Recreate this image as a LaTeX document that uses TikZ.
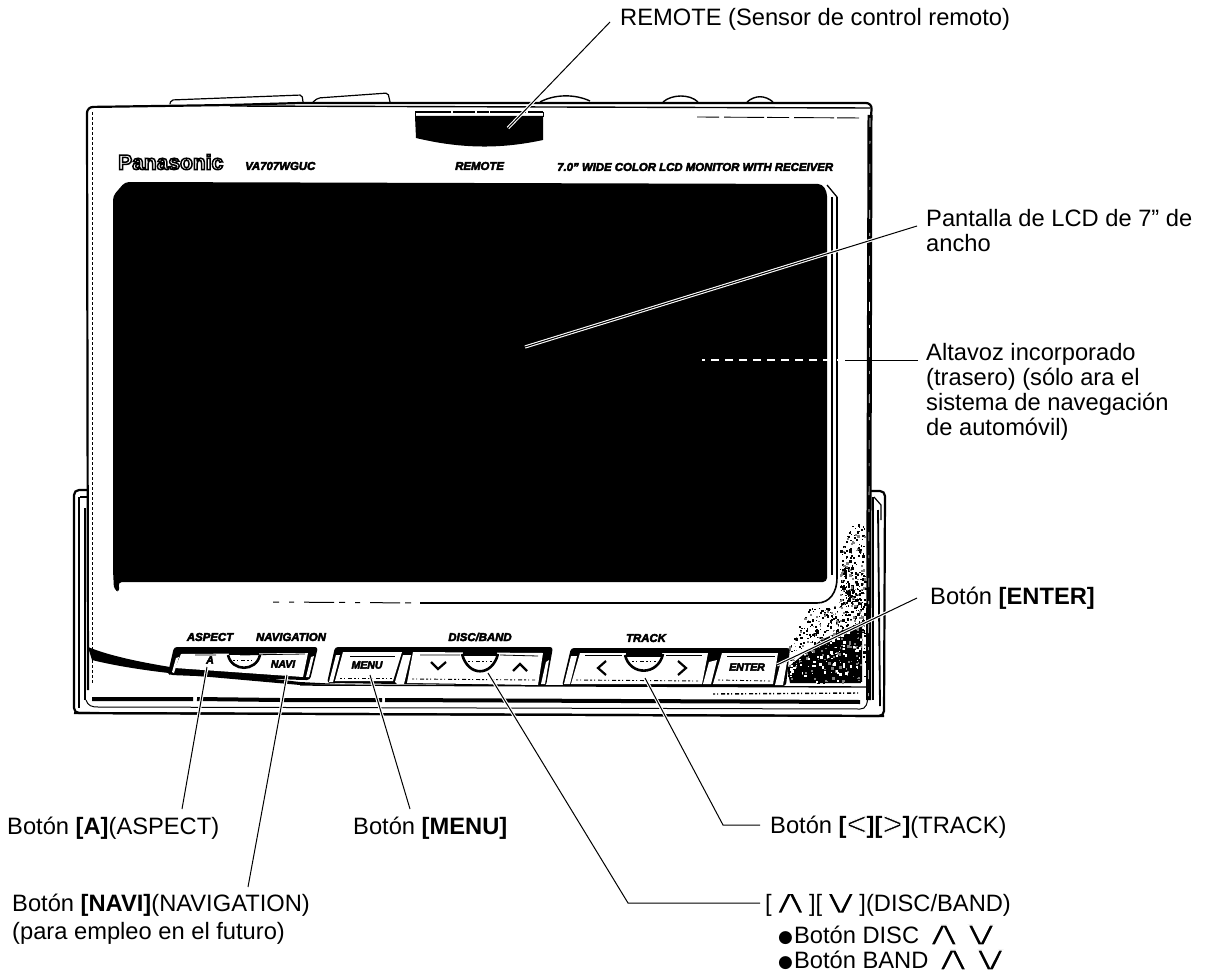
\documentclass[tikz,border=0pt]{standalone}
\usepackage{fontspec}
\usepackage{graphicx}
\setmainfont{Liberation Sans}
\newfontfamily\symfont{DejaVu Sans}
\newcommand{\lblsize}{\fontsize{23.7}{25}\selectfont}
\newcommand{\thinglyph}[1]{\special{pdf:code 0 0 0 rg 1 1 1 RG 0.5 w 2 Tr}#1\special{pdf:code 0 Tr 0 0 0 rg 0 0 0 RG}}
\newcommand{\thinchev}[1]{\special{pdf:code 0 0 0 rg 1 1 1 RG 0.9 w 2 Tr}#1\special{pdf:code 0 Tr 0 0 0 rg 0 0 0 RG}}
\newcommand{\heavy}[1]{\special{pdf:code 0 0 0 rg 0 0 0 RG 0.45 w 2 Tr}#1\special{pdf:code 0 Tr 0 0 0 rg 0 0 0 RG}}
\newcommand{\chevU}{\hspace{-2pt}\raisebox{-1.5pt}{\scalebox{2.45}[1.5]{\symfont\fontsize{23}{25}\selectfont\thinchev{∧}}}\hspace{-2pt}}
\newcommand{\chevD}{\hspace{-2pt}\raisebox{-1.5pt}{\scalebox{2.45}[1.5]{\symfont\fontsize{23}{25}\selectfont\thinchev{∨}}}\hspace{-2pt}}
\newcommand{\angL}{\raisebox{-2pt}{\scalebox{1.45}[1.4]{\thinglyph{<}}}}
\newcommand{\angR}{\raisebox{-2pt}{\scalebox{1.45}[1.4]{\thinglyph{>}}}}
\newcommand{\blt}{\raisebox{.5pt}{\symfont\fontsize{17}{17}\selectfont ●}}
\tikzset{
  lbl/.style={anchor=west,inner sep=0pt,align=left,font=\lblsize,text=black},
  lead/.style={draw=black,line width=1pt,preaction={draw=white,line width=3.2pt}},
  plainlead/.style={draw=black,line width=1pt},
  devtxt/.style={inner sep=0pt,font=\bfseries\itshape\fontsize{11.4}{12}\selectfont,text=black},
  keytxt/.style={inner sep=0pt,font=\bfseries\itshape\fontsize{10.5}{12}\selectfont,text=black},
  framel/.style={draw=black,line width=2.2pt,line join=round},
  thinl/.style={draw=black,line width=1.2pt},
  face/.style={fill=white,draw=none},
  chevk/.style={draw=black,line width=2.2pt},
  dipl/.style={draw=black,line width=2.6pt},
  specl/.style={draw=black,line width=.9pt,dash pattern=on 2pt off 2pt on 1pt off 3pt on 4pt off 2pt},
}
\begin{document}
\begin{tikzpicture}[x=1pt,y=-1pt]
\useasboundingbox (0,0) rectangle (1209,973);
\fill[white] (0,0) rectangle (1209,973);

% base cradle
\draw[framel,rounded corners=5pt] (88,490) -- (74,490) -- (74,713) -- (884,716) -- (885,491) -- (867,491);
\draw[thinl] (79,497) -- (79,708);
\draw[thinl] (85,508) -- (85,700);
\draw[thinl] (80,497) -- (88,497);
\draw[line width=1.8pt] (878,510) -- (880,706);
\draw[thinl] (873,497) -- (873,700);
\draw[thinl] (874,497) -- (881,505) -- (881,520);

% top buttons
\draw[thinl,rounded corners=2pt] (170,104) -- (171,100) -- (302,95) -- (303,102);
\draw[thinl,rounded corners=2pt] (313,102) -- (318,98) -- (388,93) -- (390,102);
\draw[line width=1.4pt] (540,102) .. controls (555,94) and (575,94) .. (590,101);
\draw[line width=1.4pt] (663,102) .. controls (672,94) and (690,94) .. (698,102);
\draw[line width=1.4pt] (747,102) .. controls (755,95) and (765,95) .. (773,102);

% bezel
\draw[framel,rounded corners=6pt,fill=white] (88,690) -- (87,107) -- (230,105) -- (300,103) -- (872,103) -- (870,130);
\draw[line width=1.4pt] (230,106) -- (870,108);
\draw[line width=1pt,densely dashed] (92,112) -- (92,650);
\draw[line width=1pt,densely dashed] (92,660) -- (92,695);
\draw[line width=5pt] (870,115) -- (868.5,700);
\draw[white,line width=.6pt,dash pattern=on 9pt off 14pt on 3pt off 20pt] (870,118) -- (868.5,700);
\draw[line width=.9pt,dash pattern=on 22pt off 5pt on 40pt off 3pt] (697,117) -- (863,118);
% re-draw base over bezel bottom
\fill[white] (90,684) rectangle (866,712);
\draw[line width=2.2pt] (74,713) -- (884,716);

% remote window
\fill[black] (415,116) -- (543,116) -- (543,140) .. controls (510,147) and (470,151) .. (416,138) -- cycle;
\draw[line width=1.5pt,dash pattern=on 36pt off 2pt on 22pt off 2pt on 12pt off 1pt] (415,112) -- (543,112);
\draw[line width=1pt] (415,112) -- (415,117) (543,112) -- (543,117);

% logo row
\node[inner sep=0pt,anchor=west] (logo) at (118,162) {\special{pdf:code 1 1 1 rg 0 0 0 RG 1.5 w 2 Tr}\bfseries\fontsize{21}{22}\selectfont Panasonic\special{pdf:code 0 Tr 0 0 0 rg 0 0 0 RG}};
\node[devtxt,anchor=west] (model) at (245,166) {\heavy{VA707WGUC}};
\node[devtxt,anchor=west] (remtxt) at (455,166) {\heavy{REMOTE}};
\node[devtxt,anchor=west] (widetxt) at (557,167) {\heavy{7.0" WIDE COLOR LCD MONITOR WITH RECEIVER}};

% screen
\fill[black,rounded corners=4pt] (113,196) -- (125,182) -- (822,184) -- (827,192) -- (827,582) -- (118,582) -- (120,592) -- (114,590) -- (113,570) -- cycle;
\draw[line width=1.3pt] (827,185) -- (837,197);
\draw[line width=1.3pt] (832,197) -- (832,575);
\draw[line width=1.6pt] (837,197) -- (837,578) .. controls (837,592) and (830,603) .. (817,603);
\draw[line width=1.3pt] (817,603) -- (420,603);
\draw[line width=1pt,dash pattern=on 6pt off 10pt on 5pt off 10pt on 30pt off 5pt] (273,602) -- (420,603);

% speckle
\fill[black] (821,640) -- (862,622) -- (862,683) -- (790,683) -- (787,668) -- cycle;
\pgfmathsetseed{7}
\foreach \i in {1,...,760}{
  \pgfmathsetmacro{\tv}{pow(rnd,0.6)}
  \pgfmathsetmacro{\yy}{520+162*\tv}
  \pgfmathsetmacro{\wd}{10+85*\tv}
  \pgfmathsetmacro{\wn}{\yy<606 ? min(\wd,26) : \wd}
  \pgfmathsetmacro{\xx}{865-\wn*rnd}
  \pgfmathsetmacro{\sz}{0.8+2.0*rnd}
  \pgfmathtruncatemacro{\cc}{int(3*rnd)}
  \ifnum\cc=0
    \fill[gray] (\xx,\yy) rectangle ++(\sz,\sz);
  \else
    \fill[black] (\xx,\yy) rectangle ++(\sz,\sz);
  \fi
}
\pgfmathsetseed{11}
\foreach \i in {1,...,110}{
  \pgfmathsetmacro{\xx}{790+72*rnd}
  \pgfmathsetmacro{\yy}{625+58*rnd}
  \pgfmathsetmacro{\sz}{1+2*rnd}
  \fill[white] (\xx,\yy) rectangle ++(\sz,\sz);
}

% swoosh
\fill[black] (88,647) .. controls (110,656) and (140,662) .. (170,667) -- (300,682) -- (340,684) -- (300,685) -- (210,677) .. controls (160,673) and (120,667) .. (92,660) -- cycle;
% button bands
\fill[black,rounded corners=3pt] (168,673) -- (174,647) -- (318,647) -- (310,680) -- (303,680) -- (170,675) -- cycle;
\fill[black,rounded corners=3pt] (327,683) -- (335,647) -- (553,647) -- (546,686) -- cycle;
\fill[black,rounded corners=3pt] (562,686) -- (571,648) -- (790,648) -- (786,686) -- cycle;
\draw[line width=1.4pt] (300,685) -- (867,687);
% faces
\fill[face] (181,654) -- (308,653) -- (303,677) -- (175,668) -- cycle;
\fill[white] (172,672) -- (176,658) -- (179,657) -- (174,673) -- cycle;
\fill[white] (309,677) -- (314,656) -- (311,657) -- (306,677) -- cycle;
\fill[face] (343,652) -- (402,652) -- (393,681) -- (335,681) -- cycle;
\fill[white] (329,682) -- (336,655) -- (340,655) -- (333,682) -- cycle;
\fill[white] (395,682) -- (403,655) -- (411,655) -- (404,684) -- (397,684) -- cycle;
\fill[face] (413,652) -- (543,653) -- (538,685) -- (407,683) -- cycle;
\fill[white] (541,684) -- (546,662) -- (549,660) -- (545,684) -- cycle;
\fill[white] (564,684) -- (571,656) -- (577,656) -- (570,684) -- cycle;
\fill[face] (580,653) -- (708,653) -- (702,684) -- (571,684) -- cycle;
\fill[white] (703,684) -- (709,662) -- (717,660) -- (711,684) -- cycle;
\fill[face] (722,653) -- (778,653) -- (773,684) -- (713,684) -- cycle;
\fill[white] (775,685) -- (780,665) -- (787,662) -- (783,685) -- cycle;

% finger dips
\draw[dipl] (228,655) .. controls (232,672) and (256,672) .. (260,655);
\draw[dipl] (462,654) .. controls (468,677) and (492,677) .. (498,654);
\draw[dipl] (625,655) .. controls (630,676) and (658,676) .. (663,654);
\fill[black] (229,652) rectangle (259,655);
\fill[black] (463,652) rectangle (497,656);
\fill[black] (626,652) rectangle (662,657);
\draw[specl] (468,661) -- (492,661);
\draw[specl] (632,661) -- (656,661);
\draw[specl] (233,660) -- (254,660);
\draw[chevk] (431,662) -- (438,669) -- (446,662);
\draw[chevk] (513,671) -- (520,664) -- (527,671);
\draw[chevk] (606,661) -- (598,668) -- (606,675);
\draw[chevk] (678,661) -- (686,668) -- (678,675);
\draw[line width=.8pt] (195,655) -- (216,655) (240,655) -- (305,654);
\draw[line width=.8pt] (350,656) -- (395,656);
\draw[line width=.8pt] (420,655) -- (460,655) (500,655) -- (538,656);
\draw[line width=.8pt] (585,655) -- (622,655) (666,655) -- (702,655);
\draw[line width=.8pt] (727,656) -- (775,656);
\draw[specl] (340,678) -- (392,678);
\draw[specl] (412,679) -- (535,680);
\draw[specl] (576,680) -- (698,681);
\draw[specl] (718,680) -- (770,681);

% key marks
\node[devtxt] (asp) at (210,637) {\heavy{ASPECT}};
\node[devtxt] (nav) at (291,637) {\heavy{NAVIGATION}};
\node[devtxt] (discband) at (480,637) {\heavy{DISC/BAND}};
\node[devtxt] (trk) at (646,638) {\heavy{TRACK}};
\node[keytxt] (keya) at (210,660) {\heavy{A}};
\node[keytxt] (keynavi) at (283,664) {\heavy{NAVI}};
\node[keytxt] (keymenu) at (367,665) {\heavy{MENU}};
\node[keytxt] (keyenter) at (747,667) {\heavy{ENTER}};

% lower rails
\draw[line width=4pt] (92,699) -- (193,699) (197,699) -- (280,700) (283,700) -- (382,700) (385,700) -- (860,702);
\draw[line width=1pt] (86,700) .. controls (88,706) and (92,707) .. (98,707) -- (860,709) .. controls (866,709) and (868,705) .. (868,690);
\draw[specl,line width=1.4pt] (713,694) -- (860,693);

% labels
\node[lbl] (lrem) at (620,19) {REMOTE (Sensor de control remoto)};
\node[lbl,anchor=north west] (lpan) at (926,209) {Pantalla de LCD de 7" de\\ancho};
\node[lbl,anchor=north west] (lalt) at (926,343) {Altavoz incorporado\\(trasero) (sólo ara el\\sistema de navegación\\de automóvil)};
\node[lbl] (lent) at (930,598) {Botón \textbf{[ENTER]}};
\node[lbl] (la) at (7,828) {Botón \textbf{[A]}(ASPECT)};
\node[lbl] (lmenu) at (353,828) {Botón \textbf{[MENU]}};
\node[lbl] (ltrack) at (770,827) {Botón \textbf{[}\angL\textbf{][}\angR\textbf{]}(TRACK)};
\node[lbl,anchor=north west] (lnavi) at (12,894) {Botón \textbf{[NAVI]}(NAVIGATION)\\[2.5pt](para empleo en el futuro)};
\node[lbl] (ldisc) at (765,905) {[\chevU][\chevD](DISC/BAND)};
\node[lbl] (lbd) at (778,935) {\blt\hspace{1pt}Botón DISC\hspace{6pt}\chevU\hspace{0pt}\chevD};
\node[lbl] (lbb) at (778,960) {\blt\hspace{1pt}Botón BAND\hspace{6pt}\chevU\hspace{0pt}\chevD};

% leader points
\coordinate (pRemA) at (610,22);
\coordinate (pRemB) at (508,128);
\coordinate (pPanA) at (917,226);
\coordinate (pPanB) at (525,347);
\coordinate (pAltA) at (918,360);
\coordinate (pAltB) at (845,360);
\coordinate (pAltC) at (702,360);
\coordinate (pEntA) at (917,598);
\coordinate (pEntB) at (777,665);
\coordinate (pAA) at (207,667);
\coordinate (pAB) at (182,809);
\coordinate (pNaA) at (287,675);
\coordinate (pNaB) at (248,887);
\coordinate (pMeA) at (370,675);
\coordinate (pMeB) at (410,809);
\coordinate (pDiA) at (488,673);
\coordinate (pDiB) at (628,903);
\coordinate (pDiC) at (760,903);
\coordinate (pTrA) at (645,678);
\coordinate (pTrB) at (723,825);
\coordinate (pTrC) at (760,825);

\draw[lead] (pRemA) -- (pRemB);
\draw[lead] (pPanA) -- (pPanB);
\draw[plainlead] (pAltA) -- (pAltB);
\draw[draw=white,line width=2.6pt,dash pattern=on 8pt off 6pt] (pAltB) -- (pAltC);
\draw[lead] (pEntA) -- (pEntB);
\draw[lead] (pAA) -- (pAB);
\draw[lead] (pNaA) -- (pNaB);
\draw[lead] (pMeA) -- (pMeB);
\draw[lead,line join=miter] (pDiA) -- (pDiB) -- (pDiC);
\draw[lead,line join=miter] (pTrA) -- (pTrB) -- (pTrC);
\end{tikzpicture}
\end{document}
